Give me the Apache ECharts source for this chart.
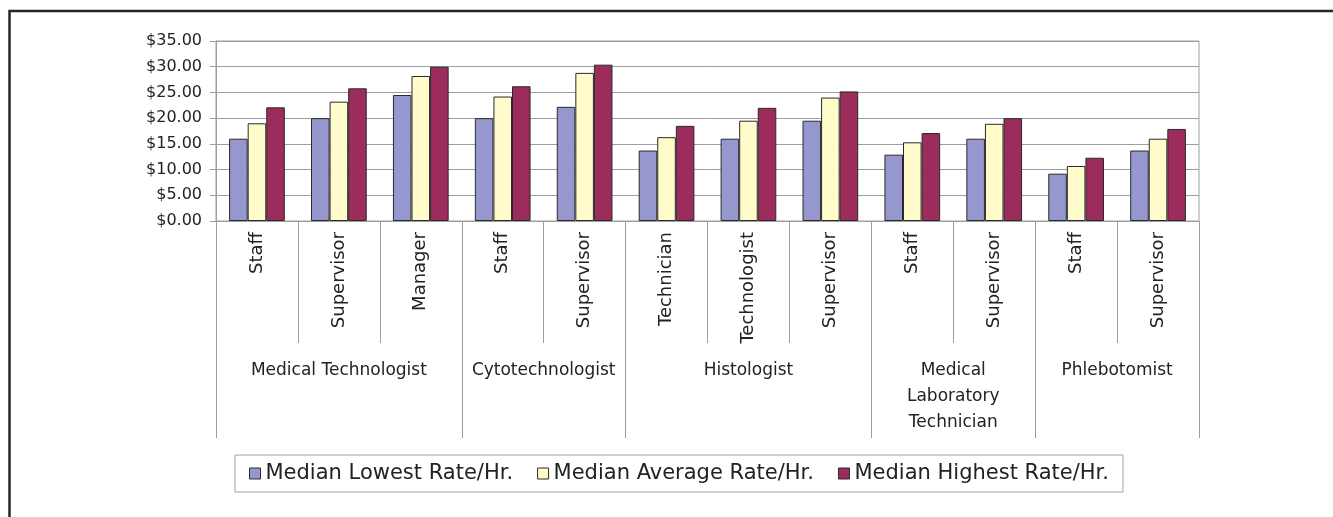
<!DOCTYPE html>
<html>
<head>
<meta charset="utf-8">
<script src="https://cdn.jsdelivr.net/npm/echarts@6/dist/echarts.min.js"></script>
<style>
  html, body { margin: 0; padding: 0; background: #fff; }
  #main { width: 1333px; height: 517px; }
</style>
</head>
<body>
<div id="main"></div>
<script>
// job titles under each bar group
var roles = ['Staff', 'Supervisor', 'Manager', 'Staff', 'Supervisor', 'Technician',
  'Technologist', 'Supervisor', 'Staff', 'Supervisor', 'Staff', 'Supervisor'];
// professions, and how many job titles each one spans
var groups = ['Medical Technologist', 'Cytotechnologist', 'Histologist',
  'Medical\nLaboratory\nTechnician', 'Phlebotomist'];
var groupSizes = [3, 2, 3, 2, 2];

var seriesNames = ['Median Lowest Rate/Hr.', 'Median Average Rate/Hr.', 'Median Highest Rate/Hr.'];
var lowest  = [16.0, 20.0, 24.5, 20.0, 22.2, 13.7, 16.0, 19.5, 12.9, 16.0, 9.2, 13.7];
var average = [19.0, 23.2, 28.2, 24.2, 28.8, 16.3, 19.5, 24.0, 15.3, 18.9, 10.7, 16.0];
var highest = [22.1, 25.8, 30.0, 26.2, 30.4, 18.5, 22.0, 25.2, 17.1, 20.0, 12.3, 17.9];

var yMin = 0, yMax = 35, yStep = 5;

var colors = ['#9797d0', '#fffbcb', '#9c2c5c'];
var gridGray = '#9e9e9e';
var font = 'DejaVu Sans';

// group edges and centres, in category units
var edges = [0], centres = [], groupAt = {};
groupSizes.forEach(function(n, i) {
  var start = edges[edges.length - 1];
  edges.push(start + n);
  centres.push(start + n / 2);
  groupAt[start + n / 2] = groups[i];
});
var roleEdges = roles.map(function(r, i) { return i; }).concat([roles.length]);

var myChart = echarts.init(document.getElementById('main'));

function bar(name, data, i) {
  return {
    name: name,
    type: 'bar',
    data: data,
    barGap: '0%',
    barCategoryGap: '32%',
    itemStyle: { color: colors[i], borderColor: '#2a2a2a', borderWidth: 1 }
  };
}

var option = {
  animation: false,
  color: colors,
  graphic: [{
    type: 'rect',
    shape: { x: 9.5, y: 11, width: 1400, height: 600 },
    style: { fill: 'none', stroke: '#262626', lineWidth: 2.5 },
    z: -1
  }],
  grid: {
    left: 216, right: 134, top: 41, bottom: 296,
    show: true, borderColor: gridGray, borderWidth: 1
  },
  legend: {
    data: seriesNames,
    left: 235, top: 455,
    padding: [8, 14],
    itemGap: 24,
    itemWidth: 11, itemHeight: 11,
    icon: 'rect',
    borderColor: '#a0a0a0', borderWidth: 1,
    itemStyle: { borderColor: '#2a2a2a', borderWidth: 1 },
    textStyle: { fontFamily: font, fontSize: 21, color: '#222' }
  },
  xAxis: [
    {
      type: 'category',
      data: roles,
      axisLine: { lineStyle: { color: gridGray } },
      axisTick: { show: false },
      axisLabel: {
        interval: 0, rotate: 90, margin: 11,
        fontFamily: font, fontSize: 18, color: '#222'
      }
    },
    {
      // short separators between job titles
      type: 'value',
      position: 'bottom',
      min: 0, max: roles.length,
      axisLine: { show: false },
      splitLine: { show: false },
      axisTick: { customValues: roleEdges, length: 122, lineStyle: { color: gridGray } },
      axisLabel: { show: false }
    },
    {
      // profession labels and long separators
      type: 'value',
      position: 'bottom',
      min: 0, max: roles.length,
      axisLine: { show: false },
      splitLine: { show: false },
      axisTick: { customValues: edges, length: 217, lineStyle: { color: gridGray } },
      axisLabel: {
        customValues: centres,
        margin: 137,
        lineHeight: 26,
        fontFamily: font, fontSize: 17, color: '#222',
        formatter: function(v) { return groupAt[v] || ''; }
      }
    }
  ],
  yAxis: {
    type: 'value',
    min: yMin, max: yMax, interval: yStep,
    axisLine: { show: true, lineStyle: { color: gridGray } },
    axisTick: { show: true, length: 6, lineStyle: { color: gridGray } },
    splitLine: { lineStyle: { color: gridGray } },
    axisLabel: {
      margin: 14,
      fontFamily: font, fontSize: 16, color: '#222',
      formatter: function(v) { return '$' + v.toFixed(2); }
    }
  },
  series: [
    bar(seriesNames[0], lowest, 0),
    bar(seriesNames[1], average, 1),
    bar(seriesNames[2], highest, 2)
  ]
};

myChart.setOption(option);
</script>
</body>
</html>
